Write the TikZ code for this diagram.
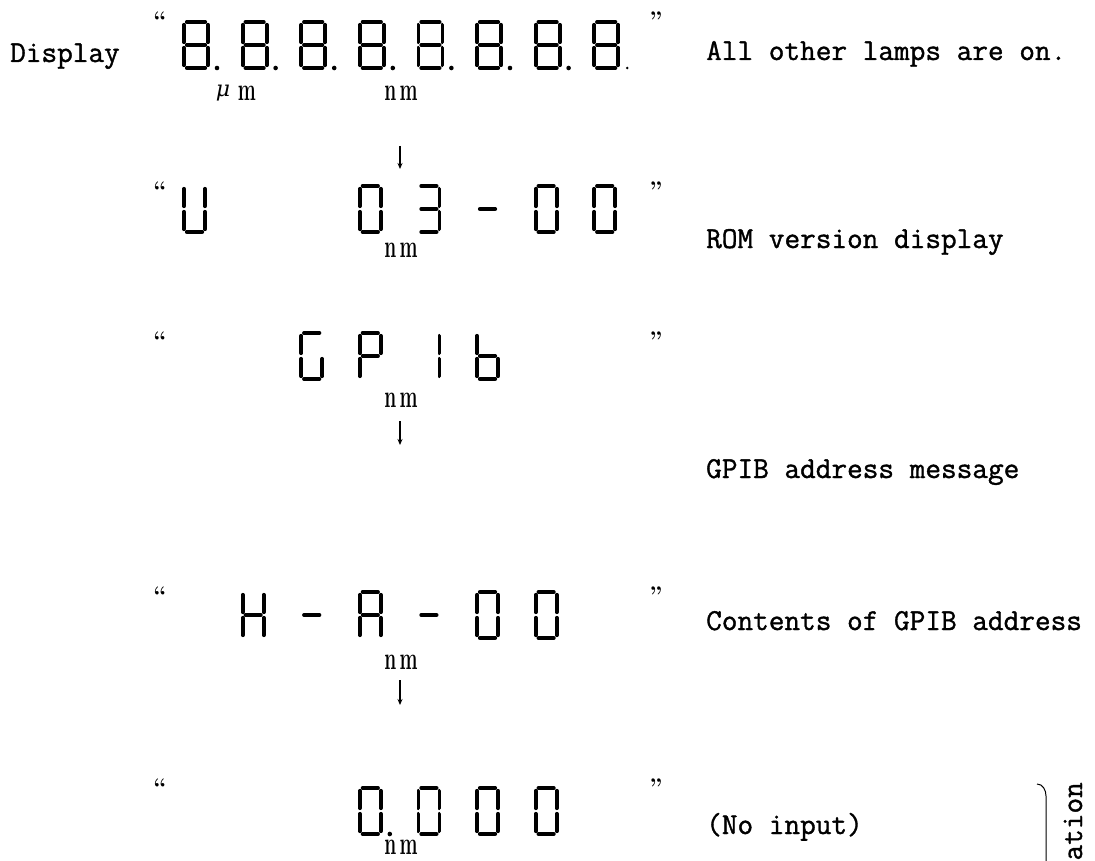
\documentclass[tikz,border=0pt]{standalone}
\usepackage{fontspec}
\setmonofont[FakeBold=1.2]{Latin Modern Mono}
\newfontfamily\greekfont{DejaVu Serif}
\usetikzlibrary{arrows.meta}

% Seven-segment digit: left x, top y, list of lit segments (a..g).
\newcommand{\lcddigit}[3]{%
  \begin{scope}[shift={(#1,#2)}]
    \coordinate (a1) at (0,0);        \coordinate (a2) at (\dw,0);
    \coordinate (b1) at (\dw,0);      \coordinate (b2) at (\dw,\dh/2);
    \coordinate (c1) at (\dw,\dh/2);  \coordinate (c2) at (\dw,\dh);
    \coordinate (d1) at (0,\dh);      \coordinate (d2) at (\dw,\dh);
    \coordinate (e1) at (0,\dh/2);    \coordinate (e2) at (0,\dh);
    \coordinate (f1) at (0,0);        \coordinate (f2) at (0,\dh/2);
    \coordinate (g1) at (0,\dh/2);    \coordinate (g2) at (\dw,\dh/2);
    \foreach \s in {#3} {\draw[lcdseg] (\s1) -- (\s2);}
  \end{scope}}
\newcommand{\lcdpoint}[2]{\fill (#1,#2) circle[radius=2.3];}
\def\dw{24}
\def\dh{46}

\begin{document}
\begin{tikzpicture}[
  x=1pt,
  y=-1pt,
  line join=round,
  lcdseg/.style={line width=3.8pt,line cap=round,shorten <=2.8pt,shorten >=2.8pt},
  msg/.style={font=\ttfamily\fontsize{30.4}{34}\selectfont,anchor=base west,inner sep=0pt},
  unitlbl/.style={font=\fontsize{32}{32}\selectfont\bfseries,xscale=0.6,inner sep=0pt},
  qmark/.style={font=\fontsize{24}{24}\selectfont\bfseries,inner sep=0pt},
  stepdown/.style={-{Stealth[length=6pt,width=5pt]},line width=1.1pt}
]
  % Match the page frame of the scan.
  \useasboundingbox (0,0) rectangle (1095,861);

  % Row 1: full lamp test.
  \node[msg] (disp) at (10,62) {Display};
  \node[qmark] (q1l) at (160,20) {``};
  \node[qmark] (q1r) at (656,20) {''};
  \foreach \i in {0,...,7} {
    \lcddigit{184+58.6*\i}{22}{a,b,c,d,e,f,g}
  }
  \foreach \i in {0,...,6} {
    \lcdpoint{217+58.6*\i}{68}
  }
  \fill (627.2,68) circle[radius=1.3];
  \node[font=\greekfont\itshape\fontsize{22}{22}\selectfont,inner sep=0pt] (mu) at (223,93) {μ};
  \node[unitlbl] (um) at (247,93) {m};
  \node[unitlbl] (nm1) at (401,93) {n\,m};
  \node[msg] (lamps) at (706,60) {All other lamps are on.};

  \coordinate (arr1s) at (400,146);
  \coordinate (arr1e) at (400,169);
  \draw[stepdown] (arr1s) -- (arr1e);

  % Row 2: ROM version.
  \def\dw{21}
  \node[qmark] (q2l) at (160,190) {``};
  \node[qmark] (q2r) at (656,190) {''};
  \lcddigit{184}{186}{b,c,d,e,f}
  \lcddigit{184+58.6*3}{186}{a,b,c,d,e,f}
  \lcddigit{184+58.6*4}{186}{a,b,c,d,g}
  \lcddigit{184+58.6*5}{186}{g}
  \lcddigit{184+58.6*6}{186}{a,b,c,d,e,f}
  \lcddigit{184+58.6*7}{186}{a,b,c,d,e,f}
  \node[unitlbl] (nm2) at (401,250) {n\,m};
  \node[msg] (rom) at (706,248) {ROM version display};

  % Row 3: GPIB message.
  \node[qmark] (q3l) at (160,340) {``};
  \node[qmark] (q3r) at (656,340) {''};
  \lcddigit{184+58.6*2}{333}{a,c,d,e,f}
  \lcddigit{184+58.6*3}{333}{a,b,e,f,g}
  \lcddigit{184+58.6*4}{333}{b,c}
  \lcddigit{184+58.6*5}{333}{c,d,e,f,g}
  \node[unitlbl] (nm3) at (401,400) {n\,m};

  \coordinate (arr2s) at (400,421);
  \coordinate (arr2e) at (400,445);
  \draw[stepdown] (arr2s) -- (arr2e);
  \node[msg] (gpibmsg) at (706,478) {GPIB address message};

  % Row 4: GPIB address contents.
  \node[qmark] (q4l) at (160,595) {``};
  \node[qmark] (q4r) at (656,595) {''};
  \lcddigit{184+58.6*1}{592}{b,c,e,f,g}
  \lcddigit{184+58.6*2}{592}{g}
  \lcddigit{184+58.6*3}{592}{a,b,c,e,f,g}
  \lcddigit{184+58.6*4}{592}{g}
  \lcddigit{184+58.6*5}{592}{a,b,c,d,e,f}
  \lcddigit{184+58.6*6}{592}{a,b,c,d,e,f}
  \node[unitlbl] (nm4) at (401,662) {n\,m};
  \node[msg] (contents) at (706,630) {Contents of GPIB address};

  \coordinate (arr3s) at (400,680);
  \coordinate (arr3e) at (400,705);
  \draw[stepdown] (arr3s) -- (arr3e);

  % Row 5: no input.
  \node[qmark] (q5l) at (160,787) {``};
  \node[qmark] (q5r) at (656,787) {''};
  \lcddigit{184+58.6*3}{788}{a,b,c,d,e,f}
  \lcdpoint{184+58.6*3+30}{834}
  \lcddigit{184+58.6*4}{788}{a,b,c,d,e,f}
  \lcddigit{184+58.6*5}{788}{a,b,c,d,e,f}
  \lcddigit{184+58.6*6}{788}{a,b,c,d,e,f}
  \node[unitlbl] (nm5) at (401,847) {n\,m};
  \node[msg] (noinput) at (706,834) {(No input)};

  % Brace and side label cut by the page edge.
  \coordinate (brtop) at (1037,784);
  \coordinate (brbot) at (1046,861);
  \draw[line width=1pt] (brtop) to[out=0,in=90] (1046,796) -- (brbot);
  \node[msg,rotate=90,anchor=base east] (side) at (1082,782) {ation};
\end{tikzpicture}
\end{document}
